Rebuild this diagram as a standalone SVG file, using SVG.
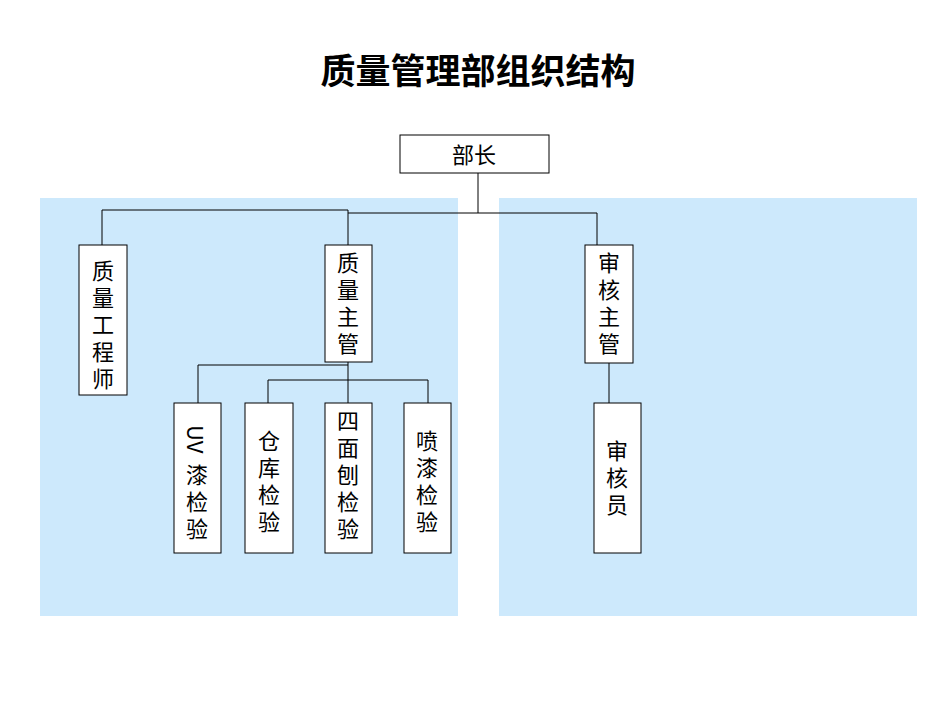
<svg xmlns="http://www.w3.org/2000/svg" width="950" height="713" viewBox="0 0 950 713">
<style>
.bg{fill:#cde9fc}
.b{fill:none;stroke:#000;stroke-width:1}
.w{fill:#fff;stroke:#000;stroke-width:1}
.t{font-family:"Noto Sans CJK SC",sans-serif;font-size:22px;fill:#000}
.v{writing-mode:vertical-rl;text-anchor:start;letter-spacing:5px}
</style>
<rect width="950" height="713" fill="#fff"/>
<rect class="bg" x="40" y="198" width="418" height="418"/>
<rect class="bg" x="499" y="198" width="418" height="418"/>
<text x="478" y="84" text-anchor="middle" font-family="Noto Sans CJK SC,sans-serif" font-weight="bold" font-size="35">质量管理部组织结构</text>
<g id="connectors" class="b">
<path d="M478,173V213M348,213H597V245M102,245V210H348V245M348,362V403M198,403V365H348M268,403V380H428V403M609,363V403"/>
</g>
<g id="n0"><rect class="w" x="400" y="135" width="149" height="38"/><text class="t" x="474" y="163" text-anchor="middle">部长</text></g>
<g id="n1"><rect class="w" x="79" y="245" width="48" height="150"/><text class="t v" x="103" y="260">质量工程师</text></g>
<g id="n2"><rect class="w" x="325" y="245" width="47" height="117"/><text class="t v" x="348" y="252">质量主管</text></g>
<g id="n3"><rect class="w" x="585" y="245" width="48" height="118"/><text class="t v" x="609" y="252">审核主管</text></g>
<g id="n4"><rect class="w" x="594" y="403" width="47" height="150"/><text class="t v" x="617" y="440">审核员</text></g>
<g id="n5"><rect class="w" x="174" y="403" width="47" height="150"/><text class="t v" x="197" y="425"><tspan letter-spacing="0">UV</tspan> 漆检验</text></g>
<g id="n6"><rect class="w" x="245" y="403" width="48" height="150"/><text class="t v" x="269" y="430">仓库检验</text></g>
<g id="n7"><rect class="w" x="325" y="403" width="47" height="150"/><text class="t v" x="348" y="410">四面刨检验</text></g>
<g id="n8"><rect class="w" x="404" y="403" width="47" height="150"/><text class="t v" x="427" y="430">喷漆检验</text></g>
</svg>
